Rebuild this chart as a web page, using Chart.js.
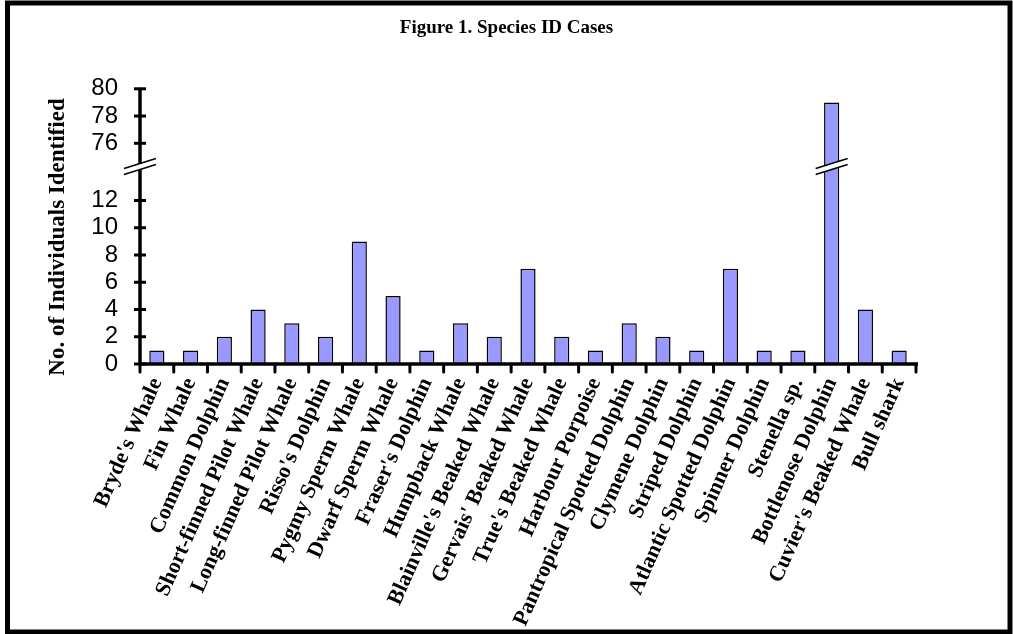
<!DOCTYPE html>
<html>
<head>
<meta charset="utf-8">
<script src="https://cdn.jsdelivr.net/npm/chart.js@4/dist/chart.umd.min.js"></script>
<style>
  html, body { margin: 0; padding: 0; background: #fff; }
  canvas { display: block; }
</style>
</head>
<body>
<canvas id="speciesChart" width="1013" height="634"></canvas>
<script>
// species and counts
const species = [
  "Bryde's Whale", "Fin Whale", "Common Dolphin", "Short-finned Pilot Whale",
  "Long-finned Pilot Whale", "Risso's Dolphin", "Pygmy Sperm Whale", "Dwarf Sperm Whale",
  "Fraser's Dolphin", "Humpback Whale", "Blainville's Beaked Whale", "Gervais' Beaked Whale",
  "True's Beaked Whale", "Harbour Porpoise", "Pantropical Spotted Dolphin", "Clymene Dolphin",
  "Striped Dolphin", "Atlantic Spotted Dolphin", "Spinner Dolphin", "Stenella sp.",
  "Bottlenose Dolphin", "Cuvier's Beaked Whale", "Bull shark"
];
const individuals = [1, 1, 2, 4, 3, 2, 9, 5, 1, 3, 2, 7, 2, 1, 3, 2, 1, 7, 1, 1, 79, 4, 1];

// y axis is broken between 12 and 76
const lowerTicks = [0, 2, 4, 6, 8, 10, 12];
const upperTicks = [76, 78, 80];
const axisTicks = lowerTicks.concat(upperTicks);

const BREAK_AT = 14;     // anything above this is on the upper part
const AXIS_GAP = 59.8;   // amount cut out of the axis
const BREAK_MARK = 14.5; // where the // marks go (axis units)

function toAxis(v) {
  return v > BREAK_AT ? v - AXIS_GAP : v;
}

const serif = "'Liberation Serif', 'Times New Roman', serif";
const sans = "'Liberation Sans', Arial, sans-serif";

// axes, tick marks, frame, break marks and y title drawn by hand
const axisPlugin = {
  id: 'axisPlugin',
  afterDatasetsDraw(chart) {
    const ctx = chart.ctx;
    const area = chart.chartArea;
    const x = chart.scales.x;
    const y = chart.scales.y;
    ctx.save();
    ctx.strokeStyle = '#000';
    ctx.lineCap = 'butt';

    // y axis line + ticks (cross the line)
    ctx.lineWidth = 3.5;
    ctx.beginPath();
    ctx.moveTo(area.left, y.getPixelForValue(toAxis(80)) - 1);
    ctx.lineTo(area.left, area.bottom + 1);
    ctx.stroke();
    ctx.lineWidth = 3;
    axisTicks.forEach(t => {
      const py = y.getPixelForValue(toAxis(t));
      ctx.beginPath();
      ctx.moveTo(area.left - 6, py);
      ctx.lineTo(area.left + 6, py);
      ctx.stroke();
    });

    // x axis line + ticks between categories
    ctx.lineWidth = 3.5;
    ctx.beginPath();
    ctx.moveTo(area.left - 1, area.bottom);
    ctx.lineTo(area.right + 2, area.bottom);
    ctx.stroke();
    ctx.lineWidth = 3;
    ctx.lineCap = 'round';
    for (let i = 0; i <= species.length; i++) {
      const px = x.getPixelForValue(i - 0.5);
      ctx.beginPath();
      ctx.moveTo(px, area.bottom);
      ctx.lineTo(px, area.bottom + 8);
      ctx.stroke();
    }
    ctx.lineCap = 'butt';

    // break marks on the axis and on the tall bar
    const by = y.getPixelForValue(BREAK_MARK);
    const drawBreak = (cx) => {
      const half = 16, rise = 5, sep = 6;
      ctx.fillStyle = '#fff';
      ctx.beginPath();
      ctx.moveTo(cx - half, by + rise - sep / 2);
      ctx.lineTo(cx + half, by - rise - sep / 2);
      ctx.lineTo(cx + half, by - rise + sep / 2);
      ctx.lineTo(cx - half, by + rise + sep / 2);
      ctx.closePath();
      ctx.fill();
      ctx.lineWidth = 1.6;
      [-sep / 2, sep / 2].forEach(o => {
        ctx.beginPath();
        ctx.moveTo(cx - half, by + rise + o);
        ctx.lineTo(cx + half, by - rise + o);
        ctx.stroke();
      });
    };
    drawBreak(area.left);
    individuals.forEach((v, i) => {
      if (v > BREAK_AT) drawBreak(x.getPixelForValue(i));
    });

    // y axis title
    ctx.fillStyle = '#000';
    ctx.font = "bold 23px " + serif;
    ctx.textAlign = 'center';
    ctx.textBaseline = 'middle';
    ctx.translate(58, 237);
    ctx.rotate(-Math.PI / 2);
    ctx.fillText('No. of Individuals Identified', 0, 0);
    ctx.setTransform(1, 0, 0, 1, 0, 0);

    // outer frame
    ctx.lineWidth = 5;
    ctx.strokeRect(7.5, 3, 1002.5, 629);
    ctx.restore();
  }
};

new Chart(document.getElementById('speciesChart'), {
  type: 'bar',
  data: {
    labels: species,
    datasets: [{
      data: individuals.map(toAxis),
      backgroundColor: '#9999ff',
      borderColor: '#000',
      borderWidth: 1.5,
      barPercentage: 0.45,
      categoryPercentage: 1.0
    }]
  },
  options: {
    responsive: false,
    animation: false,
    layout: { padding: 0 },
    plugins: {
      legend: { display: false },
      tooltip: { enabled: false },
      title: {
        display: true,
        text: 'Figure 1. Species ID Cases',
        color: '#000',
        font: { family: serif, size: 19, weight: 'bold' },
        padding: { top: 17, bottom: 49 }
      }
    },
    scales: {
      x: {
        grid: { display: false, drawTicks: false },
        border: { display: false },
        ticks: {
          autoSkip: false,
          minRotation: 66,
          maxRotation: 66,
          padding: 10,
          color: '#000',
          font: { family: serif, size: 22, weight: 'bold' }
        },
        afterFit(scale) {
          scale.height = 270;
          scale.paddingLeft = 0;
          scale.paddingRight = 0;
        }
      },
      y: {
        min: 0,
        max: toAxis(80),
        grid: { display: false, drawTicks: false },
        border: { display: false },
        afterBuildTicks(scale) {
          scale.ticks = axisTicks.map(t => ({ value: toAxis(t) }));
        },
        ticks: {
          autoSkip: false,
          padding: 22,
          color: '#000',
          font: { family: sans, size: 24 },
          callback: (value, index) => axisTicks[index]
        },
        afterFit(scale) {
          scale.width = 140;
          scale.paddingTop = 0;
          scale.paddingBottom = 0;
        }
      },
      // empty axis on the right only keeps the blank margin there
      yRight: {
        position: 'right',
        grid: { display: false, drawTicks: false },
        border: { display: false },
        ticks: { display: false },
        afterFit(scale) {
          scale.width = 97;
        }
      }
    }
  },
  plugins: [axisPlugin]
});
</script>
</body>
</html>
